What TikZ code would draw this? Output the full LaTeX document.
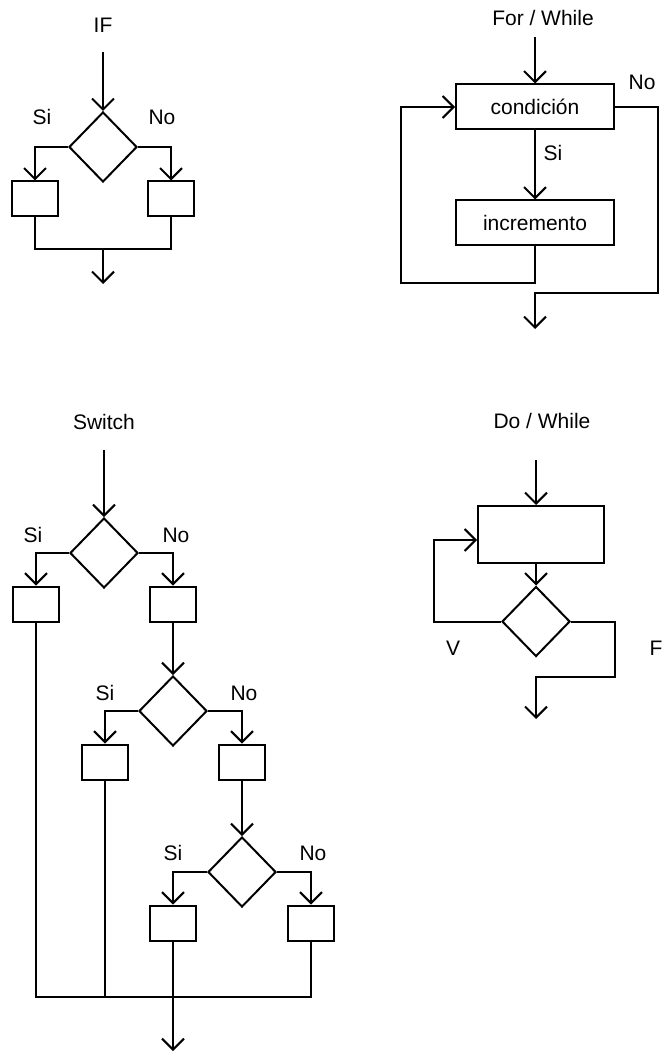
\documentclass[tikz,border=0pt]{standalone}
\usepackage{fontspec}
\setmainfont{Liberation Sans}
\usetikzlibrary{arrows.meta,shapes.geometric}

\begin{document}
\begin{tikzpicture}[x=1pt, y=-1pt,
    line width=2pt,
    font=\fontsize{21}{25}\selectfont,
    blk/.style={draw, rectangle, minimum width=46pt, minimum height=35pt, inner sep=0pt},
    wblk/.style={draw, rectangle, minimum width=158pt, minimum height=45pt, inner sep=0pt},
    cond/.style={draw, diamond, minimum width=68pt, minimum height=70pt, inner sep=0pt},
    lbl/.style={inner sep=0pt},
    farrow/.style={-{Straight Barb[length=11pt,width=22pt]}}
]
\useasboundingbox (0,0) rectangle (667,1056);

% IF
\node[lbl] (iftitle) at (103,25) {IF};
\coordinate (ifin) at (103,52);
\node[cond] (ifd) at (103,147) {};
\node[blk] (ifa) at (35,199) {};
\node[blk] (ifb) at (171,199) {};
\coordinate (ifj) at (103,249);
\coordinate (ifout) at (103,284);
\node[lbl] (ifsi) at (42,117) {Si};
\node[lbl] (ifno) at (162,117) {No};

\draw[farrow] (ifin) -- (ifd.north);
\draw[farrow] (ifd.west) -| (ifa.north);
\draw[farrow] (ifd.east) -| (ifb.north);
\draw (ifa.south) |- (ifj) -| (ifb.south);
\draw[farrow] (ifj) -- (ifout);

% For / While
\node[lbl] (fortitle) at (543,18) {For / While};
\coordinate (forin) at (535,37);
\node[wblk] (fcond) at (535,107) {condición};
\node[wblk] (fincr) at (535,223) {incremento};
\coordinate (forback) at (401,283);
\coordinate (forno) at (658,293);
\coordinate (forout) at (535,329);
\node[lbl] (forsi) at (553,153) {Si};
\node[lbl] (fornolbl) at (642,82) {No};

\draw[farrow] (forin) -- (fcond.north);
\draw[farrow] (fcond.south) -- (fincr.north);
\draw[farrow] (fincr.south) |- (forback) |- (fcond.west);
\draw[farrow] (fcond.east) -| (forno) -| (forout);

% Do / While
\node[lbl] (dotitle) at (542,421) {Do / While};
\coordinate (doin) at (536,460);
\node[draw, rectangle, minimum width=126pt, minimum height=57pt, inner sep=0pt] (dobody) at (541,534.5) {};
\node[cond] (dod) at (536,621.5) {};
\coordinate (doback) at (434,540);
\coordinate (dof) at (615,677);
\coordinate (doout) at (536,719);
\node[lbl] (dov) at (453,648) {V};
\node[lbl] (doflbl) at (656,648) {F};

\draw[farrow] (doin) -- (dobody.north -| doin);
\draw[farrow] (dobody.south -| dod.north) -- (dod.north);
\draw[farrow] (dod.west) -| (doback) -- (dobody.west |- doback);
\draw[farrow] (dod.east) -| (dof) -| (doout);

% Switch
\node[lbl] (swtitle) at (104,422) {Switch};
\coordinate (swin) at (104,450);
\node[cond] (swd1) at (104,553) {};
\node[blk] (swa1) at (36,604) {};
\node[blk] (swb1) at (173,604) {};
\node[cond] (swd2) at (173,711) {};
\node[blk] (swa2) at (105,762) {};
\node[blk] (swb2) at (242,762) {};
\node[cond] (swd3) at (242,872) {};
\node[blk] (swa3) at (173,923) {};
\node[blk] (swb3) at (311,923) {};
\coordinate (swj) at (173,997);
\coordinate (swout) at (173,1051);
\node[lbl] (swsi1) at (33,535) {Si};
\node[lbl] (swno1) at (176,535) {No};
\node[lbl] (swsi2) at (105,693) {Si};
\node[lbl] (swno2) at (244,693) {No};
\node[lbl] (swsi3) at (173,853) {Si};
\node[lbl] (swno3) at (313,853) {No};

\draw[farrow] (swin) -- (swd1.north);
\draw[farrow] (swd1.west) -| (swa1.north);
\draw[farrow] (swd1.east) -| (swb1.north);
\draw[farrow] (swb1.south) -- (swd2.north);
\draw[farrow] (swd2.west) -| (swa2.north);
\draw[farrow] (swd2.east) -| (swb2.north);
\draw[farrow] (swb2.south) -- (swd3.north);
\draw[farrow] (swd3.west) -| (swa3.north);
\draw[farrow] (swd3.east) -| (swb3.north);
\draw (swa1.south) |- (swj) -| (swb3.south);
\draw (swa2.south) -- (swa2.south |- swj);
\draw (swa3.south) -- (swj);
\draw[farrow] (swj) -- (swout);

\end{tikzpicture}
\end{document}
